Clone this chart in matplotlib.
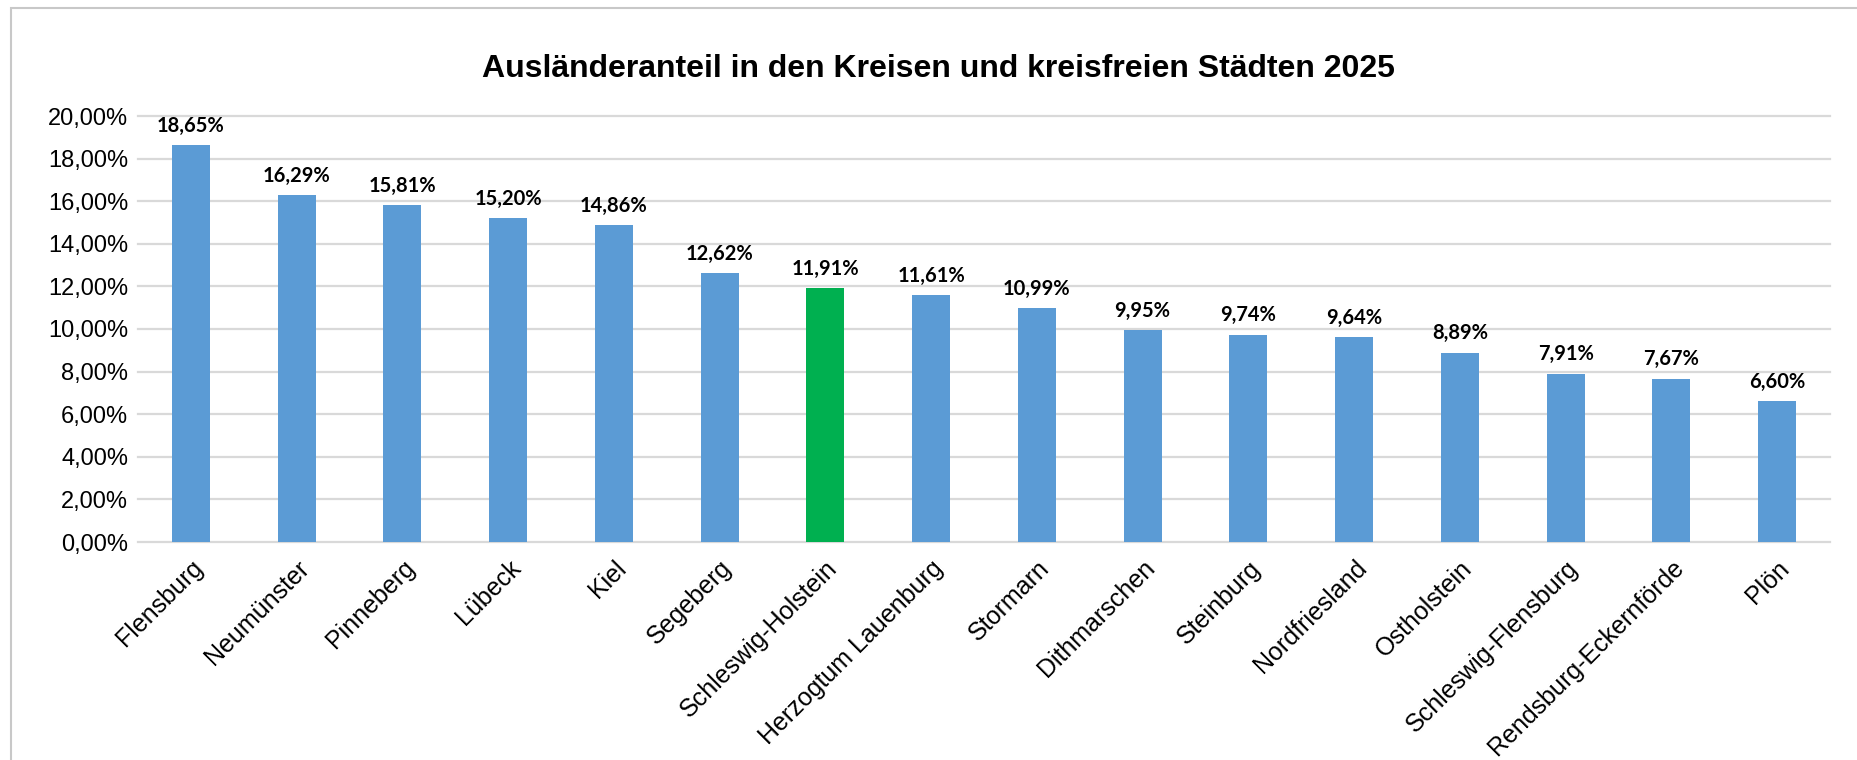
import matplotlib
matplotlib.use("Agg")
import matplotlib.pyplot as plt
from matplotlib.patches import Rectangle

# Daten (Anteil in %)
kreise = ["Flensburg", "Neumünster", "Pinneberg", "Lübeck", "Kiel", "Segeberg",
          "Schleswig-Holstein", "Herzogtum Lauenburg", "Stormarn", "Dithmarschen",
          "Steinburg", "Nordfriesland", "Ostholstein", "Schleswig-Flensburg",
          "Rendsburg-Eckernförde", "Plön"]
anteil = [18.65, 16.29, 15.81, 15.20, 14.86, 12.62, 11.91, 11.61, 10.99, 9.95,
          9.74, 9.64, 8.89, 7.91, 7.67, 6.60]
land = "Schleswig-Holstein"
yticks = [0, 2, 4, 6, 8, 10, 12, 14, 16, 18, 20]

blau = "#5B9BD5"
gruen = "#00B050"
grau = "#D9D9D9"

plt.rcParams["font.family"] = ["Liberation Sans", "DejaVu Sans"]

fig = plt.figure(figsize=(18.58, 7.60), dpi=100)
ax = fig.add_axes([138 / 1858, 1 - 542 / 760, (1830 - 138) / 1858, (542 - 116) / 760])

# Rahmen des Diagrammbereichs
fig.add_artist(Rectangle((11 / 1858, -0.1), 1.2, 1.1 - 8 / 760, transform=fig.transFigure,
                         fill=False, edgecolor="#C8C8C8", linewidth=1.5))

farben = [gruen if k == land else blau for k in kreise]
x = list(range(len(kreise)))
balken = ax.bar(x, anteil, width=0.36, color=farben, zorder=2)

for t in yticks:
    ax.axhline(t, color=grau, linewidth=1.6, zorder=1, clip_on=False)

for xi, v in zip(x, anteil):
    ax.annotate(f"{v:.2f}%".replace(".", ","), (xi, v), xytext=(0, 9.5),
                textcoords="offset points", ha="center", va="baseline",
                fontsize=14.5, fontweight="bold", family="Lato", color="black")

ax.set_xlim(-0.5, len(kreise) - 0.5)
ax.set_ylim(0, 20)
ax.set_yticks(yticks)
ax.set_yticklabels([f"{t:.2f}%".replace(".", ",") for t in yticks], fontsize=17)
ax.set_xticks(x)
ax.set_xticklabels(kreise, rotation=45, ha="right", rotation_mode="anchor", fontsize=18)
ax.tick_params(axis="both", length=0)
ax.tick_params(axis="y", pad=7)
ax.tick_params(axis="x", pad=10)
for s in ax.spines.values():
    s.set_visible(False)

fig.text(0.505, 1 - 69 / 760, "Ausländeranteil in den Kreisen und kreisfreien Städten 2025",
         ha="center", va="center", fontsize=23, fontweight="bold")

fig.savefig("out.png", dpi=100)
